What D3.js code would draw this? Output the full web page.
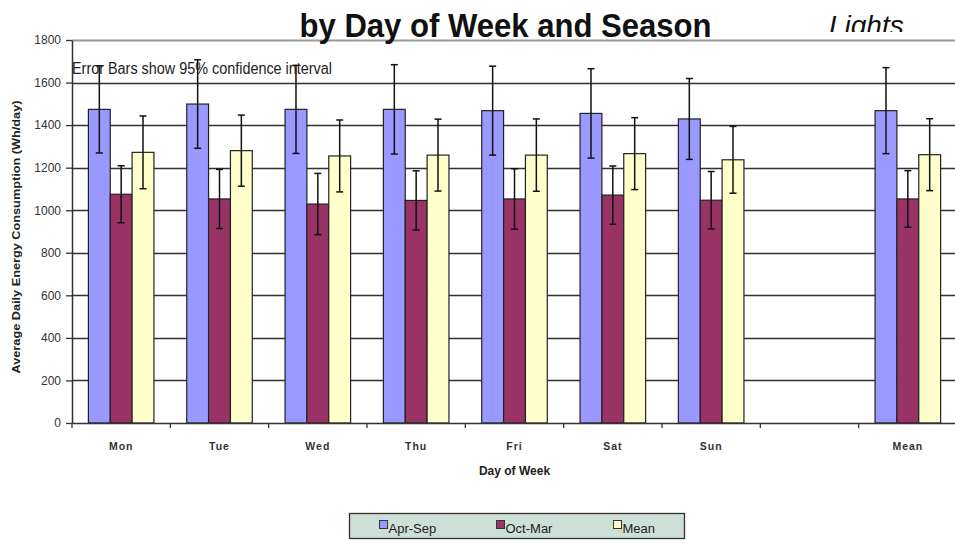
<!DOCTYPE html>
<html>
<head>
<meta charset="utf-8">
<script src="https://cdn.jsdelivr.net/npm/d3@7"></script>
<style>
  body { margin: 0; background: #fff; }
  svg { display: block; font-family: "Liberation Sans", Arial, sans-serif; }
  .grid line { stroke: #333; stroke-width: 1.3; }
  .bar { stroke: #222; stroke-width: 1.2; }
  .err { stroke: #111; stroke-width: 1.5; fill: none; }
</style>
</head>
<body>
<svg class="chart" width="955" height="541"></svg>
<script>

//
// data
//

var days = ["Mon", "Tue", "Wed", "Thu", "Fri", "Sat", "Sun", "", "Mean"];
var seasons = ["Apr-Sep", "Oct-Mar", "Mean"];

// average daily energy (Wh/day), null = empty slot
var aprSep     = [1474, 1499, 1474, 1474, 1468, 1455, 1429, null, 1468];
var octMar     = [1075, 1053, 1029, 1046, 1053, 1071, 1047, null, 1053];
var meanVals   = [1272, 1280, 1255, 1259, 1259, 1266, 1237, null, 1261];

// half width of the 95% confidence interval
var aprSepErr  = [205, 208, 207, 210, 209, 210, 190, null, 202];
var octMarErr  = [134, 139, 144, 139, 142, 137, 135, null, 133];
var meanErr    = [171, 167, 169, 169, 170, 169, 157, null, 169];

var yTicks = [0, 200, 400, 600, 800, 1000, 1200, 1400, 1600, 1800];

var colors = { "Apr-Sep": "#9999ff", "Oct-Mar": "#993366", "Mean": "#ffffcc" };

var values = { "Apr-Sep": aprSep, "Oct-Mar": octMar, "Mean": meanVals };
var errors = { "Apr-Sep": aprSepErr, "Oct-Mar": octMarErr, "Mean": meanErr };


//
// scales
//

var plotLeft = 72, plotRight = 957, plotTop = 40, plotBottom = 423;

var svg = d3.select(".chart");

var x = d3.scaleBand()
    .domain(days)
    .range([plotLeft, plotRight])
    .padding(0);

var xs = d3.scaleBand()
    .domain(seasons)
    .range([0, x.bandwidth()])
    .paddingInner(0)
    .paddingOuter(0.75);

var y = d3.scaleLinear()
    .domain([0, 1800])
    .range([plotBottom, plotTop]);


//
// grid
//

svg.append("g")
    .attr("class", "grid")
    .selectAll("line")
    .data(yTicks.filter(function (d) { return d > 0; }))
    .enter().append("line")
    .attr("x1", plotLeft)
    .attr("x2", 955)
    .attr("y1", function (d) { return Math.round(y(d)) + 0.5; })
    .attr("y2", function (d) { return Math.round(y(d)) + 0.5; })
    .style("stroke", function (d) { return d === 1800 ? "#9a9a9a" : null; })
    .style("stroke-width", function (d) { return d === 1800 ? 2 : null; });


//
// bars
//

var rows = [];
days.forEach(function (day, i) {
    seasons.forEach(function (s) {
        if (values[s][i] != null) {
            rows.push({ day: day, season: s, value: values[s][i], err: errors[s][i] });
        }
    });
});

var groups = svg.append("g").selectAll("g")
    .data(rows)
    .enter().append("g")
    .attr("transform", function (d) {
        return "translate(" + (x(d.day) + xs(d.season)) + ",0)";
    });

groups.append("rect")
    .attr("class", "bar")
    .attr("x", 0)
    .attr("width", xs.bandwidth())
    .attr("y", function (d) { return y(d.value); })
    .attr("height", function (d) { return plotBottom - y(d.value); })
    .attr("fill", function (d) { return colors[d.season]; });

// error bars
var cx = xs.bandwidth() / 2;
groups.append("line")
    .attr("class", "err")
    .attr("x1", cx).attr("x2", cx)
    .attr("y1", function (d) { return y(d.value + d.err); })
    .attr("y2", function (d) { return y(d.value - d.err); });
groups.append("line")
    .attr("class", "err")
    .attr("x1", cx - 3.5).attr("x2", cx + 3.5)
    .attr("y1", function (d) { return y(d.value + d.err); })
    .attr("y2", function (d) { return y(d.value + d.err); });
groups.append("line")
    .attr("class", "err")
    .attr("x1", cx - 3.5).attr("x2", cx + 3.5)
    .attr("y1", function (d) { return y(d.value - d.err); })
    .attr("y2", function (d) { return y(d.value - d.err); });


//
// axes
//

var yAxis = svg.append("g")
    .attr("transform", "translate(" + plotLeft + ",0)")
    .call(d3.axisLeft(y).tickValues(yTicks).tickFormat(d3.format("d"))
        .tickSize(6).tickPadding(5).tickSizeOuter(0));
yAxis.select(".domain").attr("stroke", "#333").attr("stroke-width", 1.5);
yAxis.selectAll(".tick line").attr("stroke", "#333").attr("stroke-width", 1.3);
yAxis.selectAll("text")
    .attr("fill", "#333")
    .style("font-size", "12px");

var xAxis = svg.append("g")
    .attr("transform", "translate(0," + plotBottom + ")")
    .call(d3.axisBottom(x).tickSize(0).tickPadding(20).tickSizeOuter(0));
xAxis.select(".domain").attr("stroke", "#333").attr("stroke-width", 1.5);
xAxis.selectAll("text")
    .attr("fill", "#333")
    .style("font-size", "10.5px")
    .style("font-weight", "bold")
    .style("letter-spacing", "1px");

// ticks at the category boundaries
xAxis.selectAll("line.boundary")
    .data(days)
    .enter().append("line")
    .attr("class", "boundary")
    .attr("stroke", "#333")
    .attr("stroke-width", 1.3)
    .attr("x1", function (d) { return x(d); })
    .attr("x2", function (d) { return x(d); })
    .attr("y1", 0)
    .attr("y2", 5);


//
// texts
//

svg.append("text")
    .attr("x", (plotLeft + plotRight) / 2 - 9)
    .attr("y", 37)
    .attr("text-anchor", "middle")
    .attr("textLength", 412)
    .attr("lengthAdjust", "spacingAndGlyphs")
    .style("font-size", "34px")
    .style("font-weight", "bold")
    .attr("fill", "#111")
    .text("by Day of Week and Season");

svg.append("clipPath")
    .attr("id", "clipTop")
    .append("rect")
    .attr("x", 800).attr("y", 0)
    .attr("width", 155).attr("height", 32);

svg.append("text")
    .attr("clip-path", "url(#clipTop)")
    .attr("x", 829)
    .attr("y", 35)
    .style("font-size", "28px")
    .style("font-style", "italic")
    .attr("fill", "#111")
    .text("Lights");

svg.append("text")
    .attr("x", plotLeft)
    .attr("y", 74)
    .attr("textLength", 260)
    .attr("lengthAdjust", "spacingAndGlyphs")
    .style("font-size", "16px")
    .attr("fill", "#222")
    .text("Error Bars show 95% confidence interval");

svg.append("text")
    .attr("transform", "translate(20," + 237 + ") rotate(-90)")
    .attr("text-anchor", "middle")
    .attr("textLength", 273)
    .attr("lengthAdjust", "spacingAndGlyphs")
    .style("font-size", "11.5px")
    .style("font-weight", "bold")
    .attr("fill", "#222")
    .text("Average Daily Energy Consumption (Wh/day)");

svg.append("text")
    .attr("x", (plotLeft + plotRight) / 2)
    .attr("y", 475)
    .attr("text-anchor", "middle")
    .style("font-size", "12px")
    .style("font-weight", "bold")
    .attr("fill", "#222")
    .text("Day of Week");


//
// legend
//

var legend = svg.append("g");

legend.append("rect")
    .attr("x", 349.5)
    .attr("y", 513.5)
    .attr("width", 335)
    .attr("height", 25)
    .attr("fill", "#cde0d7")
    .attr("stroke", "#333")
    .attr("stroke-width", 1.3);

var legendX = { "Apr-Sep": 379.5, "Oct-Mar": 496.5, "Mean": 613.5 };

var items = legend.selectAll("g.item")
    .data(seasons)
    .enter().append("g")
    .attr("class", "item")
    .attr("transform", function (d) {
        return "translate(" + legendX[d] + ",520.5)";
    });

items.append("rect")
    .attr("width", 8)
    .attr("height", 8)
    .attr("fill", function (d) { return colors[d]; })
    .attr("stroke", "#333");

items.append("text")
    .attr("x", 9)
    .attr("y", 12)
    .style("font-size", "13px")
    .attr("fill", "#222")
    .text(function (d) { return d; });

</script>
</body>
</html>
